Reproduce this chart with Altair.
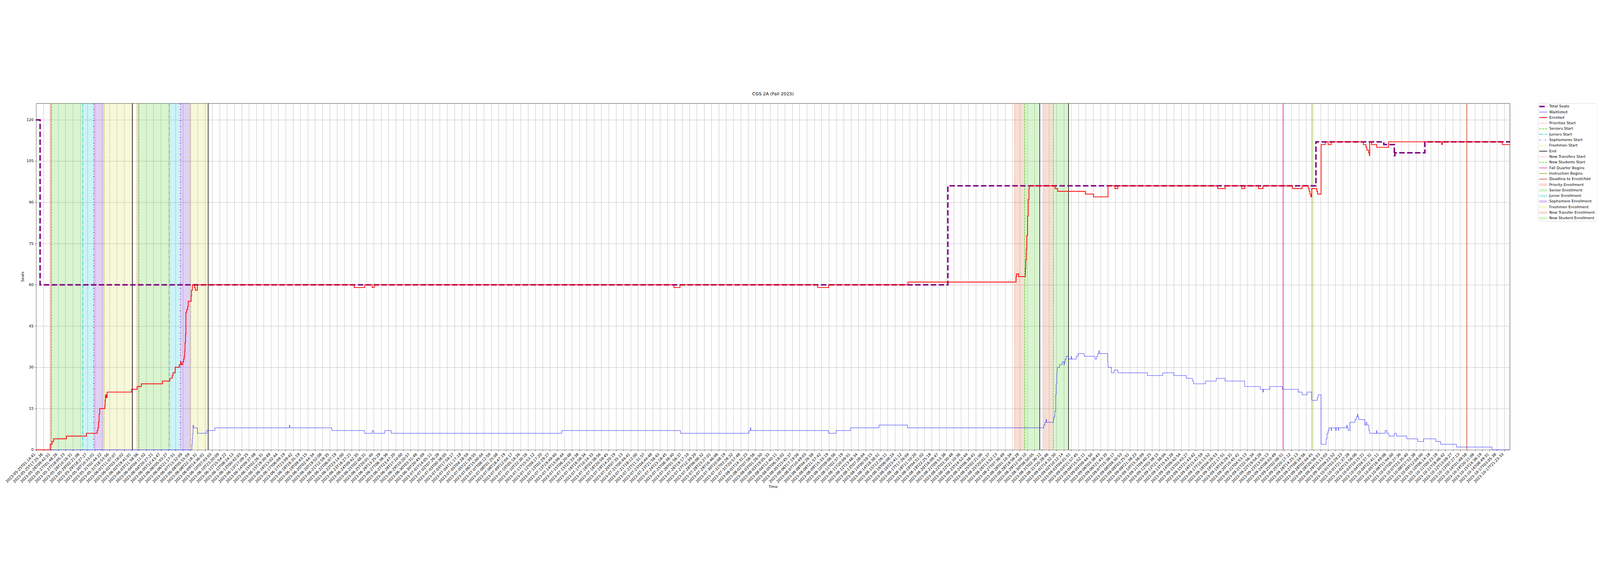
import altair as alt
import pandas as pd

# x positions are in units of the axis label step (one label every N snapshots)
tick_labels = [
    "2023-05-25T01:14:41", "2023-05-25T17:25:36", "2023-05-26T09:42:51", "2023-05-27T01:48:26",
    "2023-05-27T18:05:23", "2023-05-28T10:16:31", "2023-05-29T02:21:06", "2023-05-29T18:27:27",
    "2023-05-30T10:33:01", "2023-05-31T02:44:22", "2023-05-31T18:53:56",
    "2023-06-01T11:07:07", "2023-06-02T03:18:02", "2023-06-02T19:41:01", "2023-06-03T11:58:56",
    "2023-06-04T04:11:02", "2023-06-04T20:27:21", "2023-06-05T12:43:47", "2023-06-06T05:03:27",
    "2023-06-06T21:17:51", "2023-06-07T13:32:09", "2023-06-08T05:55:59", "2023-06-08T22:18:31",
    "2023-06-09T14:36:01", "2023-06-10T07:03:03", "2023-06-10T23:20:09", "2023-06-11T15:54:22",
    "2023-06-12T08:24:13", "2023-06-13T00:42:03", "2023-06-13T17:09:25", "2023-06-14T09:37:08",
    "2023-06-15T02:26:31", "2023-06-15T19:30:49", "2023-06-16T13:02:44", "2023-06-17T06:09:19",
    "2023-06-17T23:09:42", "2023-06-18T16:35:19", "2023-06-19T09:43:15", "2023-06-20T02:44:34",
    "2023-06-20T19:52:08", "2023-06-21T12:59:35", "2023-06-22T06:07:19", "2023-06-22T23:14:00",
    "2023-06-23T16:27:21", "2023-06-24T09:42:35", "2023-06-25T02:48:31", "2023-06-25T20:01:40",
    "2023-06-26T13:25:29", "2023-06-27T06:38:36", "2023-06-27T23:47:20", "2023-06-28T17:10:00",
    "2023-06-29T10:20:57", "2023-06-30T03:31:46", "2023-06-30T20:45:09",
    "2023-07-01T14:05:11", "2023-07-02T07:26:28", "2023-07-03T00:38:05", "2023-07-03T17:59:17",
    "2023-07-04T11:17:18", "2023-07-05T04:28:59", "2023-07-05T21:39:55", "2023-07-06T15:00:04",
    "2023-07-07T08:12:59", "2023-07-08T01:25:08", "2023-07-08T18:47:19", "2023-07-09T12:04:17",
    "2023-07-10T05:18:26", "2023-07-10T22:30:16", "2023-07-11T15:53:12", "2023-07-12T09:17:20",
    "2023-07-13T02:29:27", "2023-07-13T19:49:40", "2023-07-14T13:06:44", "2023-07-15T06:20:48",
    "2023-07-15T23:33:38", "2023-07-16T16:58:34", "2023-07-17T10:24:33", "2023-07-18T03:38:56",
    "2023-07-18T20:59:45", "2023-07-19T14:20:19", "2023-07-20T07:35:13", "2023-07-21T00:49:41",
    "2023-07-21T18:12:00", "2023-07-22T11:31:57", "2023-07-23T04:44:48", "2023-07-23T21:58:43",
    "2023-07-24T15:18:45", "2023-07-25T08:38:40", "2023-07-26T01:56:37", "2023-07-26T19:17:10",
    "2023-07-27T12:39:20", "2023-07-28T06:08:32", "2023-07-28T23:27:01", "2023-07-29T16:46:06",
    "2023-07-30T10:08:19", "2023-07-31T03:28:32", "2023-07-31T20:57:48",
    "2023-08-01T14:31:23", "2023-08-02T07:58:56", "2023-08-03T01:26:50", "2023-08-03T19:05:33",
    "2023-08-04T12:40:11", "2023-08-05T06:18:02", "2023-08-05T23:45:37", "2023-08-06T17:19:56",
    "2023-08-07T10:49:03", "2023-08-08T04:26:58", "2023-08-08T21:57:42", "2023-08-09T15:33:19",
    "2023-08-10T09:06:56", "2023-08-11T02:37:19", "2023-08-11T20:09:51", "2023-08-12T13:46:34",
    "2023-08-13T07:28:04", "2023-08-14T00:59:15", "2023-08-14T18:38:51", "2023-08-15T12:26:11",
    "2023-08-16T06:08:24", "2023-08-16T23:41:12", "2023-08-17T17:26:04", "2023-08-18T11:10:20",
    "2023-08-19T04:51:02", "2023-08-19T22:25:18", "2023-08-20T16:09:47", "2023-08-21T09:53:38",
    "2023-08-22T03:30:48", "2023-08-22T21:10:36", "2023-08-23T14:52:44", "2023-08-24T08:38:41",
    "2023-08-25T02:21:06", "2023-08-25T20:01:37", "2023-08-26T13:52:13", "2023-08-27T07:36:49",
    "2023-08-28T01:10:34", "2023-08-28T18:58:28", "2023-08-29T12:50:10", "2023-08-30T08:50:05",
    "2023-08-31T02:36:12", "2023-08-31T20:28:46",
    "2023-09-01T14:32:30", "2023-09-02T10:12:14", "2023-09-03T04:01:51", "2023-09-03T21:57:45",
    "2023-09-04T15:52:11", "2023-09-05T09:44:50", "2023-09-06T03:38:43", "2023-09-06T21:43:35",
    "2023-09-07T15:38:17", "2023-09-08T09:30:53", "2023-09-09T03:25:51", "2023-09-09T21:38:23",
    "2023-09-10T15:38:09", "2023-09-11T09:40:25", "2023-09-12T03:38:15", "2023-09-12T21:38:04",
    "2023-09-13T15:43:28", "2023-09-14T09:42:54", "2023-09-15T03:43:27", "2023-09-15T21:43:42",
    "2023-09-16T15:47:59", "2023-09-17T10:13:52", "2023-09-18T04:16:53", "2023-09-18T22:17:51",
    "2023-09-19T16:29:31", "2023-09-20T10:45:41", "2023-09-21T04:53:13", "2023-09-21T22:56:34",
    "2023-09-22T19:54:28", "2023-09-23T13:55:13", "2023-09-24T08:03:49", "2023-09-25T02:08:51",
    "2023-09-25T20:17:12", "2023-09-26T14:25:13", "2023-09-27T08:34:56", "2023-09-28T02:44:45",
    "2023-09-28T20:56:53", "2023-09-29T15:13:03", "2023-09-30T09:23:52",
    "2023-10-01T03:29:23", "2023-10-01T21:37:28", "2023-10-02T15:56:06", "2023-10-03T10:15:21",
    "2023-10-04T04:37:31", "2023-10-04T22:41:11", "2023-10-05T16:49:06", "2023-10-06T11:04:00",
    "2023-10-07T05:27:36", "2023-10-07T23:35:40", "2023-10-08T17:52:38", "2023-10-09T12:04:00",
    "2023-10-10T06:14:18", "2023-10-11T00:23:18", "2023-10-11T18:46:42", "2023-10-12T13:09:27",
    "2023-10-13T07:27:13", "2023-10-14T01:49:58", "2023-10-14T20:11:06", "2023-10-15T14:38:19",
    "2023-10-16T08:49:31", "2023-10-17T03:05:38", "2023-10-17T21:23:33",
]
x_end = 200.76

seats_t = [0, 0.54, 124.2, 174.34, 183.59, 185.02, 185.1, 189.18, x_end]
seats_v = [120, 60, 96, 112, 111, 107, 108, 112, 112]

enrolled_t = [0, 1.92, 2.16, 2.39, 4.13, 6.85, 8.31, 8.42, 8.50, 8.58, 8.66,
              9.36, 9.41, 9.45, 9.50, 9.55, 9.59, 9.67, 13.0, 13.76, 14.33, 17.21,
              18.21, 18.54, 18.65, 18.94, 19.51, 19.70, 19.78, 19.98, 20.10, 20.18,
              20.24, 20.28, 20.35, 20.40, 20.51, 20.64, 20.72, 21.12, 21.17, 21.29,
              21.58, 21.70, 21.97, 43.33, 44.76, 45.78, 46.05, 86.89, 87.71, 106.47,
              107.96, 118.77, 133.49, 133.56, 133.84, 134.76, 134.81, 134.88, 134.95,
              135.06, 135.15, 135.25, 135.29, 138.8, 139.15, 142.92, 144.05, 146.02,
              146.96, 147.36, 160.95, 161.96, 164.22, 164.64, 166.53, 167.13, 171.15,
              172.45, 173.30, 173.42, 173.53, 173.65, 173.77, 174.46, 174.57, 175.04,
              175.61, 176.0, 176.42, 180.81, 181.16, 181.28, 181.51, 181.62, 181.67,
              181.92, 182.62, 184.23, 191.49, 191.56, 199.72, x_end]
enrolled_v = [0, 2, 3, 4, 5, 6, 7, 8, 10, 13, 15,
              16, 18, 20, 19, 20, 19, 21, 22, 23, 24, 25,
              26, 27, 28, 30, 31, 32, 31, 32, 33, 34,
              36, 39, 42, 50, 51, 52, 54, 56, 58, 60,
              59, 58, 60, 59, 60, 59, 60, 59, 60, 59,
              60, 61, 63, 64, 63, 66, 69, 73, 78,
              85, 91, 95, 96, 95, 94, 93, 92, 96,
              95, 96, 95, 96, 95, 96, 95, 96, 95,
              96, 95, 94, 93, 92, 95, 94, 93, 111,
              112, 111, 112, 111, 110, 109, 108, 107, 112,
              111, 110, 112, 111, 112, 111, 111]

waitlisted_t = [0, 21.2, 21.22, 21.28, 21.33, 21.38, 21.43, 21.97, 23.23, 24.35, 34.5,
                34.56, 40.27, 44.76, 45.78, 45.98, 47.48, 48.36, 71.6, 87.78, 97.09,
                97.3, 97.36, 107.96, 108.98, 110.95, 114.82, 118.70, 137.26, 137.42,
                137.56, 137.65, 138.57, 138.66, 138.78, 138.88, 138.95, 139.05, 139.10,
                139.43, 139.78, 140.01, 140.10, 140.19, 140.33, 140.65, 141.0, 141.05,
                141.69, 141.93, 142.78, 144.24, 144.47, 144.63, 144.77, 144.85, 145.97,
                146.02, 146.48, 146.85, 147.36, 151.4, 153.48, 154.98, 156.67, 157.52,
                157.68, 159.28, 160.76, 161.96, 164.64, 166.76, 167.13, 167.2, 168.06,
                169.79, 171.92, 172.45, 173.14, 173.77, 174.53, 174.64, 175.04, 175.73,
                175.85, 176.0, 176.12, 176.42, 176.47, 177.05, 177.1, 177.39, 177.44,
                178.55, 178.6, 178.73, 178.97, 179.66, 179.84, 180.0, 180.05, 180.17,
                181.0, 181.16, 181.28, 181.55, 181.67, 182.59, 182.64, 183.77, 184.0,
                184.28, 185.02, 185.32, 186.71, 188.21, 189.0, 190.68, 191.33, 193.48,
                198.33, x_end]
waitlisted_v = [0, 0, 2, 4, 6, 9, 8, 6, 7, 8, 9,
                8, 7, 6, 7, 6, 7, 6, 7, 6, 7,
                8, 7, 6, 7, 8, 9, 8, 9, 10,
                11, 10, 11, 12, 14, 20, 24, 28, 30,
                31, 32, 31, 32, 33, 34, 33, 34, 33,
                34, 35, 34, 33, 34, 35, 36, 35, 32,
                30, 28, 29, 28, 27, 28, 27, 26, 25,
                24, 25, 26, 25, 23, 22, 21, 22, 23,
                22, 21, 20, 21, 18, 19, 20, 2, 4,
                6, 7, 8, 7, 8, 7, 8, 7, 8,
                9, 8, 7, 10, 11, 12, 13, 12, 11,
                9, 10, 9, 7, 6, 7, 6, 7, 6,
                5, 6, 5, 4, 3, 4, 3, 2, 1,
                0, 0]

event_kind = ["Priorities Start", "Seniors Start", "Juniors Start", "Sophomores Start",
              "Freshmen Start", "End",
              "Priorities Start", "Seniors Start", "Juniors Start", "Sophomores Start",
              "Freshmen Start", "End",
              "New Transfers Start", "New Students Start", "End",
              "New Transfers Start", "New Students Start", "End",
              "Fall Quarter Begins", "Instruction Begins", "Deadline to Enroll/Add"]
event_t = [1.90, 2.10, 6.35, 7.84, 9.31, 13.13,
           13.73, 13.99, 18.16, 19.65, 21.08, 23.44,
           133.28, 134.66, 136.72, 137.22, 138.57, 140.64,
           169.86, 173.81, 194.87]

span_kind = ["Priority Enrollment", "Senior Enrollment", "Junior Enrollment",
             "Sophomore Enrollment", "Freshmen Enrollment",
             "Priority Enrollment", "Senior Enrollment", "Junior Enrollment",
             "Sophomore Enrollment", "Freshmen Enrollment",
             "New Transfer Enrollment", "New Student Enrollment",
             "New Transfer Enrollment", "New Student Enrollment"]
span_start = [1.90, 2.10, 6.35, 7.84, 9.31, 13.73, 13.99, 18.16, 19.65, 21.08,
              133.28, 134.66, 137.22, 138.57]
span_end = [2.10, 6.35, 7.84, 9.31, 13.13, 13.99, 18.16, 19.65, 21.08, 23.44,
            134.66, 136.72, 138.57, 140.64]

# styles: colour, dash, width
line_style = {
    "Total Seats": ("#800080", [20.6, 8.9], 5.5),
    "Waitlisted": ("#0000ff", [1, 0], 1.4),
    "Enrolled": ("#ff0000", [1, 0], 2.8),
    "Priorities Start": ("#ee6633", [2.1, 3.4], 2.1),
    "Seniors Start": ("#44cc1a", [7.7, 3.3], 2.1),
    "Juniors Start": ("#11c8d2", [13.3, 3.3, 2.1, 3.3], 2.1),
    "Sophomores Start": ("#6622dd", [5, 7, 2, 7], 2.1),
    "Freshmen Start": ("#dddd33", [7, 3, 2, 3, 2, 3], 2.1),
    "End": ("#000000", [1, 0], 2.1),
    "New Transfers Start": ("#ee6633", [2.1, 3.4], 2.1),
    "New Students Start": ("#44cc1a", [7.7, 3.3], 2.1),
    "Fall Quarter Begins": ("#dd1199", [1, 0], 2.1),
    "Instruction Begins": ("#88aa11", [1, 0], 2.1),
    "Deadline to Enroll/Add": ("#cc4422", [1, 0], 2.1),
}
span_fill = {
    "Priority Enrollment": "#d9602c",
    "Senior Enrollment": "#40cf16",
    "Junior Enrollment": "#00c3cc",
    "Sophomore Enrollment": "#6414c8",
    "Freshmen Enrollment": "#d7dc41",
    "New Transfer Enrollment": "#d9602c",
    "New Student Enrollment": "#40cf16",
}
FONT = "DejaVu Sans"
W, H = 5539, 1302
LEG_X = W + 106  # legend box left edge, right of the plot
LEG_W, LEG_H = 221, 443.4

label_expr = "[" + ",".join("'%s'" % s for s in tick_labels) + "][datum.value]"

x_scale = alt.Scale(domain=[0, x_end], nice=False, zero=False)
y_scale = alt.Scale(domain=[0, 126], nice=False)

x_axis = alt.Axis(values=list(range(len(tick_labels))), labelExpr=label_expr,
                  labelAngle=-45, labelAlign="right", labelBaseline="bottom",
                  labelPadding=14.5, labelOverlap=False, labelBound=False, labelFlush=False,
                  grid=True, gridColor="#b0b0b0", gridWidth=1.1,
                  tickSize=4.9, tickWidth=1.1, tickColor="black", domain=False,
                  title="Time", titlePadding=5.6)
y_axis = alt.Axis(values=list(range(0, 121, 15)), grid=True, gridColor="#b0b0b0",
                  gridWidth=1.1, tickSize=4.9, tickWidth=1.1, tickColor="black",
                  labelPadding=4.9, domain=False, title="Seats", titlePadding=8)

spans_df = pd.DataFrame({"kind": span_kind, "start": span_start, "end": span_end})
spans_df["fill"] = spans_df["kind"].map(span_fill)

events_df = pd.DataFrame({"kind": event_kind, "t": event_t})
events_df["color"] = events_df["kind"].map(lambda k: line_style[k][0])
events_df["dash"] = events_df["kind"].map(lambda k: line_style[k][1])
events_df["w"] = events_df["kind"].map(lambda k: line_style[k][2])

spans = alt.Chart(spans_df).mark_rect(opacity=0.2).encode(
    x=alt.X("start:Q", scale=x_scale, axis=x_axis),
    x2="end:Q",
    color=alt.Color("fill:N", scale=None),
)

events = alt.Chart(events_df).mark_rule().encode(
    x=alt.X("t:Q", scale=x_scale, axis=x_axis),
    color=alt.Color("color:N", scale=None),
    strokeDash=alt.StrokeDash("dash:N", scale=None),
    strokeWidth=alt.StrokeWidth("w:Q", scale=None),
)


def step_line(name, ts, vs):
    col, dash, w = line_style[name]
    df = pd.DataFrame({"t": ts, "v": vs})
    return alt.Chart(df).mark_line(interpolate="step-after", color=col,
                                   strokeDash=dash, strokeWidth=w).encode(
        x=alt.X("t:Q", scale=x_scale, axis=x_axis),
        y=alt.Y("v:Q", scale=y_scale, axis=y_axis),
    )


plot = alt.layer(
    spans, events,
    step_line("Total Seats", seats_t, seats_v),
    step_line("Waitlisted", waitlisted_t, waitlisted_v),
    step_line("Enrolled", enrolled_t, enrolled_v),
)

# legend box drawn to the right of the plot
legend_lines = list(line_style.keys())
legend_patches = ["Priority Enrollment", "Senior Enrollment", "Junior Enrollment",
                  "Sophomore Enrollment", "Freshmen Enrollment",
                  "New Transfer Enrollment", "New Student Enrollment"]
legend_names = legend_lines + legend_patches

leg_lines_df = pd.DataFrame({"name": legend_lines})
leg_lines_df["color"] = leg_lines_df["name"].map(lambda k: line_style[k][0])
leg_lines_df["dash"] = leg_lines_df["name"].map(lambda k: line_style[k][1])
leg_lines_df["w"] = leg_lines_df["name"].map(lambda k: line_style[k][2])
leg_patch_df = pd.DataFrame({"name": legend_patches})
leg_patch_df["color"] = leg_patch_df["name"].map(span_fill)
leg_all_df = pd.DataFrame({"name": legend_names})

leg_y = alt.Y("name:N", scale=alt.Scale(type="point", domain=legend_names,
                                        range=[11.7, 431.7], padding=0), axis=None)

leg_frame = alt.Chart(pd.DataFrame({"box": [0]})).mark_rect(
    fill="white", fillOpacity=0.8, stroke="#cccccc", strokeWidth=1.1, cornerRadius=4,
).encode(x=alt.value(LEG_X), x2=alt.value(LEG_X + LEG_W),
         y=alt.value(0), y2=alt.value(LEG_H))
leg_rules = alt.Chart(leg_lines_df).mark_rule(strokeCap="butt").encode(
    x=alt.value(LEG_X + 4.3), x2=alt.value(LEG_X + 34.3), y=leg_y,
    color=alt.Color("color:N", scale=None),
    strokeDash=alt.StrokeDash("dash:N", scale=None),
    strokeWidth=alt.StrokeWidth("w:Q", scale=None),
)
leg_patches = alt.Chart(leg_patch_df).mark_rule(strokeCap="butt", strokeWidth=9.7,
                                                opacity=0.22).encode(
    x=alt.value(LEG_X + 4.3), x2=alt.value(LEG_X + 34.3), y=leg_y,
    color=alt.Color("color:N", scale=None),
)
leg_text = alt.Chart(leg_all_df).mark_text(align="left", baseline="middle", fontSize=13.9,
                                           font=FONT, color="black").encode(
    x=alt.value(LEG_X + 42), y=leg_y, text="name:N",
)
legend = alt.layer(leg_frame, leg_rules, leg_patches, leg_text)

chart = alt.layer(plot, legend).resolve_scale(y="independent").properties(
    width=W, height=H,
    title=alt.TitleParams("CGS 2A (Fall 2023)", fontSize=16.7, font=FONT,
                          fontWeight="normal", anchor="middle", offset=8,
                          baseline="bottom", color="black"),
    autosize=alt.AutoSizeParams(type="none"),
    padding={"left": 124, "top": 29.3, "right": 327, "bottom": 152.7},
    background="white",
).configure_view(
    stroke="black", strokeWidth=1.1,
).configure_axis(
    labelFont=FONT, labelFontSize=13.9, labelColor="black",
    titleFont=FONT, titleFontSize=13.9, titleFontWeight="normal", titleColor="black",
)

chart.save("out.html", embed_options={"renderer": "svg", "actions": False})
